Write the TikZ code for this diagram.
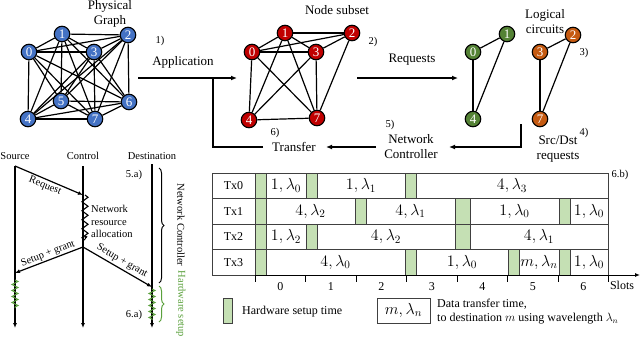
\RequirePackage{fix-cm}
\documentclass[tikz,border=0pt]{standalone}
\usepackage{fontspec}
\setmainfont{Liberation Serif}
\usetikzlibrary{arrows.meta,decorations.pathmorphing,decorations.pathreplacing}
\definecolor{nblue}{RGB}{68,114,196}
\definecolor{nred}{RGB}{192,0,0}
\definecolor{ngreen}{RGB}{84,130,53}
\definecolor{norange}{RGB}{197,90,17}
\definecolor{hwfill}{RGB}{197,224,180}
\definecolor{hwgreen}{RGB}{90,160,60}
\newcommand\hwb[3]{\draw[hwbox] (#1,#3) rectangle (#2,{#3+25.5});}
\newcommand\dtb[4]{\draw[dtbox] (#1,#3) rectangle (#2,{#3+25.5}); \node[dtlabel] at ({(#1+#2)/2},{#3+12.75}) {#4};}
\begin{document}
\begin{tikzpicture}[x=1pt,y=-1pt,
  gn/.style={circle,draw=black,line width=1.1pt,inner sep=0pt,minimum size=15.5pt,text=white,font=\fontsize{13}{13}\selectfont},
  bn/.style={gn,fill=nblue},
  rn/.style={gn,fill=nred},
  grn/.style={gn,fill=ngreen},
  on/.style={gn,fill=norange},
  ed/.style={line width=1.2pt},
  lbl/.style={font=\fontsize{13}{15}\selectfont,align=center,inner sep=0pt},
  sm/.style={font=\fontsize{10.5}{12}\selectfont,inner sep=0pt},
  arr/.style={line width=1.5pt,-{Latex[length=6pt,width=5pt]}},
  ln/.style={line width=1.5pt},
  seq/.style={line width=1.2pt,-{Latex[length=5pt,width=4pt]}},
  sq/.style={font=\fontsize{10.5}{12.5}\selectfont,inner sep=0pt,align=left},
  hwbox/.style={draw=black!75,fill=hwfill,line width=0.6pt},
  dtbox/.style={draw=black!75,fill=white,line width=0.6pt},
  dtlabel/.style={font=\fontsize{16}{16}\selectfont,inner sep=0pt},
  txl/.style={font=\fontsize{12}{12}\selectfont,inner sep=0pt},
  lg/.style={font=\fontsize{12}{14}\selectfont,inner sep=0pt,align=left,anchor=west}
]
\useasboundingbox (0,0) rectangle (640,351);

% ---------- Physical graph ----------
\node[bn] (p0) at (29,52) {0};
\node[bn] (p1) at (62,34) {1};
\node[bn] (p2) at (128,35) {2};
\node[bn] (p3) at (94,52) {3};
\node[bn] (p4) at (28,119) {4};
\node[bn] (p5) at (61,101) {5};
\node[bn] (p6) at (129,102) {6};
\node[bn] (p7) at (95,119) {7};
\foreach \a/\b in {0/1,0/2,0/3,0/4,0/5,0/6,0/7,1/2,1/3,1/4,1/5,1/6,1/7,2/3,2/4,2/5,2/6,2/7,3/4,3/5,3/6,3/7,4/5,4/6,4/7,5/6,5/7,6/7}
  \draw[ed] (p\a) -- (p\b);
\node[lbl] (tphys) at (110,13.5) {Physical\\Graph};

% ---------- Node subset ----------
\node[rn] (r0) at (252,52) {0};
\node[rn] (r1) at (285,33) {1};
\node[rn] (r2) at (352,33) {2};
\node[rn] (r3) at (316,52) {3};
\node[rn] (r4) at (249,120) {4};
\node[rn] (r7) at (317,118) {7};
\foreach \a/\b in {0/1,0/2,0/3,0/4,0/7,1/2,1/3,1/4,1/7,2/3,2/7,3/4,3/7,4/7}
  \draw[ed] (r\a) -- (r\b);
\node[lbl] (tsub) at (337,10) {Node subset};

% ---------- Logical circuits ----------
\node[grn] (g0) at (473,52) {0};
\node[grn] (g1) at (507,34) {1};
\node[grn] (g4) at (473,119) {4};
\node[on] (o3) at (540,52) {3};
\node[on] (o2) at (573,35) {2};
\node[on] (o7) at (540,119) {7};
\draw[ed] (g0) -- (g1); \draw[ed] (g0) -- (g4); \draw[ed] (g1) -- (g4);
\draw[ed] (o3) -- (o2); \draw[ed] (o3) -- (o7); \draw[ed] (o2) -- (o7);
\node[lbl] (tlog) at (545,21.5) {Logical\\circuits};

% ---------- flow labels ----------
\node[sm] (s1) at (160,41) {1)};
\node[lbl] (tapp) at (183,62) {Application};
\node[sm] (s2) at (373,42) {2)};
\node[lbl] (treq) at (412,60) {Requests};
\node[sm] (s3) at (584,53) {3)};
\node[sm] (s4) at (584,133) {4)};
\node[lbl] (tsd) at (558,149.5) {Src/Dst\\requests};
\node[sm] (s5) at (390,125) {5)};
\node[lbl] (tnc) at (411,146.5) {Network\\Controller};
\node[sm] (s6) at (275,133) {6)};
\node[lbl] (ttr) at (294,147) {Transfer};

\coordinate (a1) at (138,78);
\coordinate (a2) at (237,78);
\coordinate (a3) at (357,78);
\coordinate (a4) at (458,78);
\coordinate (b1) at (521,124);
\coordinate (b2) at (521,147);
\coordinate (b3) at (449,147);
\coordinate (c1) at (376,147);
\coordinate (c2) at (326,147);
\coordinate (d1) at (263,147);
\coordinate (d2) at (213,147);
\coordinate (d3) at (213,78);
\draw[arr] (a1) -- (a2);
\draw[arr] (a3) -- (a4);
\draw[arr] (b1) -- (b2) -- (b3);
\draw[arr] (c1) -- (c2);
\draw[ln] (d1) -- (d2) -- (d3);

% ---------- Sequence diagram ----------
\node[sq] (hsrc) at (15,156) {Source};
\node[sq] (hctl) at (83,156) {Control};
\node[sq] (hdst) at (152,156) {Destination};
\coordinate (src0) at (15,166);
\coordinate (src1) at (15,328);
\coordinate (ctl0) at (83,166);
\coordinate (ctl1) at (83,328);
\coordinate (dst0) at (152,164);
\coordinate (dst1) at (152,328);
\draw[seq] (src0) -- (src1);
\draw[seq] (ctl0) -- (ctl1);
\draw[seq] (dst0) -- (dst1);
\coordinate (req1) at (83,195);
\draw[seq] (src0) -- (req1);
\node[sq,rotate=-22.4] (treqs) at (45,186) {Request};
\coordinate (zz0) at (85,195);
\coordinate (zz1) at (85,240);
\draw[line width=1.1pt,decorate,decoration={zigzag,amplitude=3pt,segment length=9pt}] (zz0) -- (zz1);
\draw[line width=1.1pt,-{Latex[length=4pt,width=3.5pt]}] (86,236) -- (zz1);
\node[sq,anchor=west] (tnra) at (91,221.5) {Network\\resource\\allocation};
\coordinate (sg0) at (83,247);
\coordinate (sgl) at (15,273);
\coordinate (sgr) at (152,287);
\draw[seq] (sg0) -- (sgl);
\draw[seq] (sg0) -- (sgr);
\node[sq,rotate=21] (tsgl) at (48,254) {Setup + grant};
\node[sq,rotate=-30] (tsgr) at (122,261) {Setup + grant};
\draw[hwgreen,line width=1pt,decorate,decoration={zigzag,amplitude=3pt,segment length=6pt}] (15,280) -- (15,308);
\draw[hwgreen,line width=1pt,decorate,decoration={zigzag,amplitude=3pt,segment length=6pt}] (152,289) -- (152,320);
\node[sq] (t5a) at (134,175) {5.a)};
\node[sq] (t6a) at (134,315) {6.a)};
\draw[line width=1pt,decorate,decoration={brace,amplitude=5pt}] (159,168) -- (159,283);
\draw[hwgreen,line width=1pt,decorate,decoration={brace,amplitude=5pt}] (159,286) -- (159,322);
\node[sq,rotate=-90] (tncv) at (181,225) {Network Controller};
\node[sq,rotate=-90,text=hwgreen] (thwv) at (181,304) {Hardware setup};

% ---------- Schedule table ----------
\foreach \y/\t in {173/Tx0,198.5/Tx1,224/Tx2,249.5/Tx3}{
  \draw[dtbox] (212,\y) rectangle (608,{\y+25.5});
  \node[txl] at (233.5,{\y+12.75}) {\t};
}
% Tx0
\hwb{255}{266}{173}\dtb{266}{306}{173}{$1,\lambda_0$}
\hwb{306}{317}{173}\dtb{317}{405}{173}{$1,\lambda_1$}
\hwb{405}{416}{173}\dtb{416}{608}{173}{$4,\lambda_3$}
% Tx1
\hwb{255}{266}{198.5}\dtb{266}{355}{198.5}{$4,\lambda_2$}
\hwb{355}{366}{198.5}\dtb{366}{455}{198.5}{$4,\lambda_1$}
\hwb{455}{470}{198.5}\dtb{470}{559}{198.5}{$1,\lambda_0$}
\hwb{559}{570}{198.5}\dtb{570}{608}{198.5}{$1,\lambda_0$}
% Tx2
\hwb{255}{266}{224}\dtb{266}{306}{224}{$1,\lambda_2$}
\hwb{306}{317}{224}\dtb{317}{455}{224}{$4,\lambda_2$}
\hwb{455}{470}{224}\dtb{470}{608}{224}{$4,\lambda_1$}
% Tx3
\hwb{255}{266}{249.5}\dtb{266}{405}{249.5}{$4,\lambda_0$}
\hwb{405}{416}{249.5}\dtb{416}{508}{249.5}{$1,\lambda_0$}
\hwb{508}{519}{249.5}\dtb{519}{559}{249.5}{$m,\lambda_n$}
\hwb{559}{570}{249.5}\dtb{570}{608}{249.5}{$1,\lambda_0$}
\node[sm] (t6b) at (620,175) {6.b)};

% axis
\coordinate (ax0) at (255,275);
\coordinate (ax1) at (640,275);
\draw[line width=1pt,-{Latex[length=5pt,width=4pt]}] (ax0) -- (ax1);
\foreach \x in {255,305.5,356,406.5,457,507.5,558,608.5}
  \draw[line width=1pt] (\x,275) -- (\x,282);
\foreach \i in {0,...,6}
  \node[txl] at ({280.25+50.5*\i},287) {\i};
\node[txl] (tslots) at (622,285) {Slots};

% legend
\draw[hwbox] (223,298) rectangle (232,323);
\node[lg] (lhw) at (242,312) {Hardware setup time};
\draw[dtbox,line width=0.9pt] (377,298) rectangle (430,323);
\node[dtlabel] (lmb) at (403.5,310.5) {$m,\lambda_n$};
\node[lg] (ldt) at (437,311.5) {Data transfer time,\\to destination $m$ using wavelength $\lambda_n$};
\end{tikzpicture}
\end{document}
